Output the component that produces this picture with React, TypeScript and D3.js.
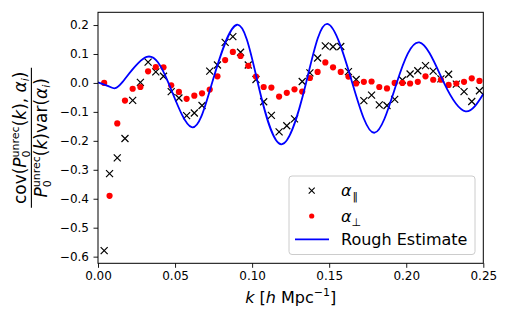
import React, { useEffect, useRef } from 'react';
import * as d3 from 'd3';

// k bins (h/Mpc)
const kValues = [
  0.004, 0.0075, 0.0125, 0.0175, 0.0225, 0.0275, 0.0325, 0.0375, 0.0425, 0.0475,
  0.0525, 0.0575, 0.0625, 0.0675, 0.0725, 0.0775, 0.0825, 0.0875, 0.0925, 0.0975,
  0.1025, 0.1075, 0.1125, 0.1175, 0.1225, 0.1275, 0.1325, 0.1375, 0.1425, 0.1475,
  0.1525, 0.1575, 0.1625, 0.1675, 0.1725, 0.1775, 0.1825, 0.1875, 0.1925, 0.1975,
  0.2025, 0.2075, 0.2125, 0.2175, 0.2225, 0.2275, 0.2325, 0.2375, 0.2425, 0.2475,
];

const alphaPar = [
  -0.579, -0.313, -0.259, -0.192, -0.06, 0.002, 0.072, 0.038, 0.023, -0.03,
  -0.052, -0.113, -0.104, -0.078, 0.041, 0.062, 0.14, 0.16, 0.106, 0.062,
  0.012, -0.065, -0.112, -0.169, -0.148, -0.124, 0.005, 0.035, 0.086, 0.128,
  0.125, 0.126, 0.039, 0.012, -0.061, -0.042, -0.076, -0.078, -0.057, 0.01,
  0.031, 0.042, 0.06, 0.041, 0.014, 0.03, -0.004, -0.03, -0.064, -0.027,
];

const alphaPerp = [
  0.0, -0.39, -0.14, -0.061, -0.02, -0.014, 0.04, 0.055, 0.054, -0.008,
  -0.031, -0.055, -0.044, -0.036, -0.023, 0.023, 0.079, 0.107, 0.093, 0.059,
  0.022, -0.014, -0.016, -0.047, -0.034, -0.022, -0.03, 0.017, 0.038, 0.071,
  0.054, 0.038, 0.022, -0.002, 0.004, 0.005, -0.014, -0.019, 0.0, 0.0,
  -0.002, 0.004, 0.023, 0.011, 0.011, -0.007, -0.002, 0.004, 0.016, 0.007,
];

// rough estimate curve, read at extrema and zero crossings
const roughK = [0, 0.008, 0.0154, 0.0316, 0.0457, 0.0608, 0.074, 0.0902, 0.1037, 0.119,
  0.135, 0.1488, 0.165, 0.1795, 0.1938, 0.2085, 0.2245, 0.2385, 0.25];
const roughVal = [0.002, -0.014, 0, 0.09, 0, -0.153, 0, 0.201, 0, -0.212,
  0, 0.204, 0, -0.172, 0, 0.14, 0, -0.098, -0.038];

const xTicks = [0, 0.05, 0.1, 0.15, 0.2, 0.25];
const yTicks = [-0.6, -0.5, -0.4, -0.3, -0.2, -0.1, 0, 0.1, 0.2];

const W = 506;
const H = 318;
const FONT = '"DejaVu Sans", sans-serif';

type Part = { t: string; italic?: boolean; size?: number; dx?: number; dy?: number };

function rich(sel: d3.Selection<SVGTextElement, unknown, null, undefined>, parts: Part[]) {
  parts.forEach(p => {
    const ts = sel.append('tspan').text(p.t);
    if (p.italic) ts.attr('font-style', 'italic');
    if (p.size) ts.attr('font-size', p.size);
    if (p.dx) ts.attr('dx', p.dx);
    if (p.dy) ts.attr('dy', p.dy);
  });
}

// P_0^unrec(k) piece, sub and sup stacked
const pUnrec: Part[] = [
  { t: 'P', italic: true },
  { t: '0', size: 11, dy: 4.5 },
  { t: 'unrec', size: 11, dx: -7, dy: -11.5 },
  { t: '(', dy: 7 },
  { t: 'k', italic: true },
];

const App: React.FC = () => {
  const svgRef = useRef<SVGSVGElement>(null);

  useEffect(() => {
    if (!svgRef.current) return;
    const svg = d3.select(svgRef.current);
    svg.selectAll('*').remove();

    const left = 98, right = 483.3, top = 12.3, bottom = 263.3;

    const x = d3.scaleLinear().domain([0, 0.25]).range([left, right]);
    const y = d3.scaleLinear().domain([-0.623, 0.244]).range([bottom, top]);

    svg.append('rect').attr('width', W).attr('height', H).attr('fill', '#fff');

    // x axis
    const gx = svg.append('g')
      .attr('transform', `translate(0,${bottom})`)
      .call(d3.axisBottom(x).tickValues(xTicks).tickFormat(d3.format('.2f')).tickSize(4.5).tickPadding(4).tickSizeOuter(0));
    gx.select('.domain').remove();
    gx.attr('font-family', FONT).attr('font-size', 12);
    gx.selectAll('line').attr('stroke', '#000').attr('stroke-width', 0.9);
    gx.selectAll('text').attr('fill', '#000');

    // y axis
    const gy = svg.append('g')
      .attr('transform', `translate(${left},0)`)
      .call(d3.axisLeft(y).tickValues(yTicks).tickFormat(d3.format('.1f')).tickSize(4.5).tickPadding(4.5).tickSizeOuter(0));
    gy.select('.domain').remove();
    gy.attr('font-family', FONT).attr('font-size', 12);
    gy.selectAll('line').attr('stroke', '#000').attr('stroke-width', 0.9);
    gy.selectAll('text').attr('fill', '#000');

    // crosses: alpha parallel
    const idx = d3.range(kValues.length);
    svg.append('g')
      .selectAll('path')
      .data(idx)
      .enter()
      .append('path')
      .attr('transform', i => `translate(${x(kValues[i])},${y(alphaPar[i])})`)
      .attr('d', 'M-3.5,-3.5L3.5,3.5M-3.5,3.5L3.5,-3.5')
      .attr('stroke', '#000')
      .attr('stroke-width', 1.2)
      .attr('fill', 'none');

    // dots: alpha perpendicular
    svg.append('g')
      .selectAll('circle')
      .data(idx)
      .enter()
      .append('circle')
      .attr('cx', i => x(kValues[i]))
      .attr('cy', i => y(alphaPerp[i]))
      .attr('r', 3.1)
      .attr('fill', '#ff0000');

    // rough estimate
    const line = d3.line<number>()
      .x(i => x(roughK[i]))
      .y(i => y(roughVal[i]))
      .curve(d3.curveNatural);
    svg.append('path')
      .attr('d', line(d3.range(roughK.length)) || '')
      .attr('fill', 'none')
      .attr('stroke', '#0000ff')
      .attr('stroke-width', 1.8);

    // frame
    svg.append('rect')
      .attr('x', left).attr('y', top)
      .attr('width', right - left).attr('height', bottom - top)
      .attr('fill', 'none').attr('stroke', '#000').attr('stroke-width', 1);

    // legend
    const lg = svg.append('g').attr('font-family', FONT).attr('font-size', 16);
    lg.append('rect')
      .attr('x', 289).attr('y', 176).attr('width', 186).attr('height', 78.5)
      .attr('rx', 3)
      .attr('fill', '#fff').attr('fill-opacity', 0.8)
      .attr('stroke', '#ccc').attr('stroke-width', 1);
    const rows = [190.7, 216, 239.3];
    lg.append('path')
      .attr('transform', `translate(311.7,${rows[0]})`)
      .attr('d', 'M-3,-3L3,3M-3,3L3,-3')
      .attr('stroke', '#000').attr('stroke-width', 1.1);
    lg.append('circle').attr('cx', 311.7).attr('cy', rows[1]).attr('r', 2.6).attr('fill', '#ff0000');
    lg.append('line')
      .attr('x1', 295).attr('x2', 329).attr('y1', rows[2]).attr('y2', rows[2])
      .attr('stroke', '#0000ff').attr('stroke-width', 1.8);
    const t1 = lg.append('text').attr('x', 341).attr('y', rows[0] + 5.5);
    rich(t1, [{ t: 'α', italic: true }, { t: '‖', size: 11, dx: 1, dy: 4 }]);
    const t2 = lg.append('text').attr('x', 341).attr('y', rows[1] + 5.5);
    rich(t2, [{ t: 'α', italic: true }, { t: '⊥', size: 11, dy: 4 }]);
    lg.append('text').attr('x', 341).attr('y', rows[2] + 5.5).text('Rough Estimate');

    // x label
    const xl = svg.append('text')
      .attr('x', (left + right) / 2).attr('y', 303)
      .attr('text-anchor', 'middle')
      .attr('font-family', FONT).attr('font-size', 16);
    rich(xl, [
      { t: 'k', italic: true },
      { t: ' [' },
      { t: 'h', italic: true },
      { t: ' Mpc' },
      { t: '−1', size: 11, dy: -7 },
      { t: ']', dy: 7 },
    ]);

    // y label (fraction)
    const yl = svg.append('g')
      .attr('transform', `translate(0,${(top + bottom) / 2}) rotate(-90)`)
      .attr('font-family', FONT).attr('font-size', 17);
    const num = yl.append('text').attr('x', 0).attr('y', 25.5).attr('text-anchor', 'middle');
    rich(num, [
      { t: 'cov(' },
      ...pUnrec,
      { t: '), ' },
      { t: 'α', italic: true },
      { t: 'i', italic: true, size: 11, dy: 3.5 },
      { t: ')', dy: -3.5 },
    ]);
    yl.append('line')
      .attr('x1', -70).attr('x2', 70).attr('y1', 31.4).attr('y2', 31.4)
      .attr('stroke', '#000').attr('stroke-width', 1.1);
    const den = yl.append('text').attr('x', 0).attr('y', 46.5).attr('text-anchor', 'middle');
    rich(den, [
      ...pUnrec,
      { t: ')var(' },
      { t: 'α', italic: true },
      { t: 'i', italic: true, size: 11, dy: 3.5 },
      { t: ')', dy: -3.5 },
    ]);
  }, []);

  return (
    <svg
      ref={svgRef}
      width={W}
      height={H}
      style={{ position: 'absolute', left: 0, top: 0, display: 'block' }}
    />
  );
};

export default App;
